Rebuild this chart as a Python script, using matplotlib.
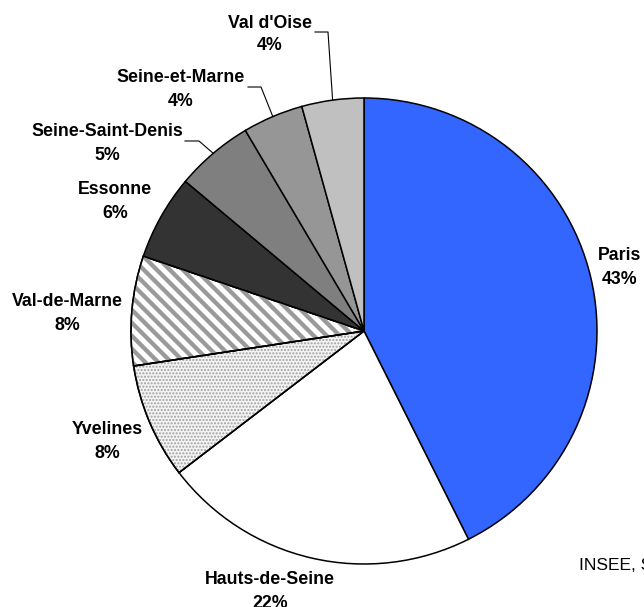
import numpy as np
import matplotlib.pyplot as plt
from matplotlib.patches import Wedge

plt.rcParams['font.family'] = ['Liberation Sans', 'DejaVu Sans']

departements = ['Paris', 'Hauts-de-Seine', 'Yvelines', 'Val-de-Marne', 'Essonne',
                'Seine-Saint-Denis', 'Seine-et-Marne', "Val d'Oise"]
parts = [42.6, 22.0, 8.0, 7.6, 5.9, 5.4, 4.2, 4.3]
source = 'INSEE, S'

colors = ['#3366ff', 'white', '#f4f4f4', 'white', '#333333', '#7f7f7f', '#969696', '#c0c0c0']

# label centre (pixels from top-left, y of the name line), leader elbow or None
label_pos = [(620, 254), (270, 578), (107, 428), (67, 300), (115, 188),
             (107, 130), (181, 76), (270, 21)]
elbows = [None, None, None, None, None, ((185, 141), (199, 141)),
          ((248, 87), (261, 87)), ((315, 32), (328, 32))]

W, H = 644, 607
fig = plt.figure(figsize=(W / 100, H / 100), dpi=100)
ax = fig.add_axes([0, 0, 1, 1])

cx, cy, r = 364, H - 331, 233

wedges, _ = ax.pie(parts, colors=colors, startangle=90, counterclock=False,
                   center=(cx, cy), radius=r, frame=True,
                   wedgeprops=dict(edgecolor='black', linewidth=1.1))
ax.set_xlim(0, W)
ax.set_ylim(0, H)
ax.set_aspect('equal')
ax.axis('off')

# Yvelines: fine dots
yv = wedges[2]
ax.add_patch(Wedge(yv.center, yv.r, yv.theta1, yv.theta2, facecolor='none',
                   edgecolor='#a0a0a0', linewidth=0, hatch='.....', zorder=1.5))

# Val-de-Marne: grey diagonal stripes
vm = wedges[3]
clip = Wedge(vm.center, vm.r, vm.theta1, vm.theta2, transform=ax.transData)
for c in np.arange(0, 1400, 13):
    ln, = ax.plot([0, W], [c, c - W], color='#9a9a9a', linewidth=3.1,
                  solid_capstyle='butt', zorder=1.5)
    ln.set_clip_path(clip)

for w in wedges[2:4]:
    ax.add_patch(Wedge(w.center, w.r, w.theta1, w.theta2, facecolor='none',
                       edgecolor='black', linewidth=1.1, zorder=2))

for w, name, val, (lx, ly), el in zip(wedges, departements, parts, label_pos, elbows):
    ax.text(lx, H - ly - 6.5, name, ha='center', va='baseline',
            fontsize=12.8, fontweight='bold')
    ax.text(lx, H - ly - 29.5, f'{round(val):d}%', ha='center', va='baseline',
            fontsize=12.8, fontweight='bold')
    if el:
        mid = np.deg2rad((w.theta1 + w.theta2) / 2)
        ex, ey = cx + r * np.cos(mid), cy + r * np.sin(mid)
        xs = [el[0][0], el[1][0], ex]
        ys = [H - el[0][1], H - el[1][1], ey]
        ax.plot(xs, ys, color='black', linewidth=0.8)

ax.text(579, H - 570, source, ha='left', va='baseline', fontsize=12.5)

fig.savefig('out.png', dpi=100)
